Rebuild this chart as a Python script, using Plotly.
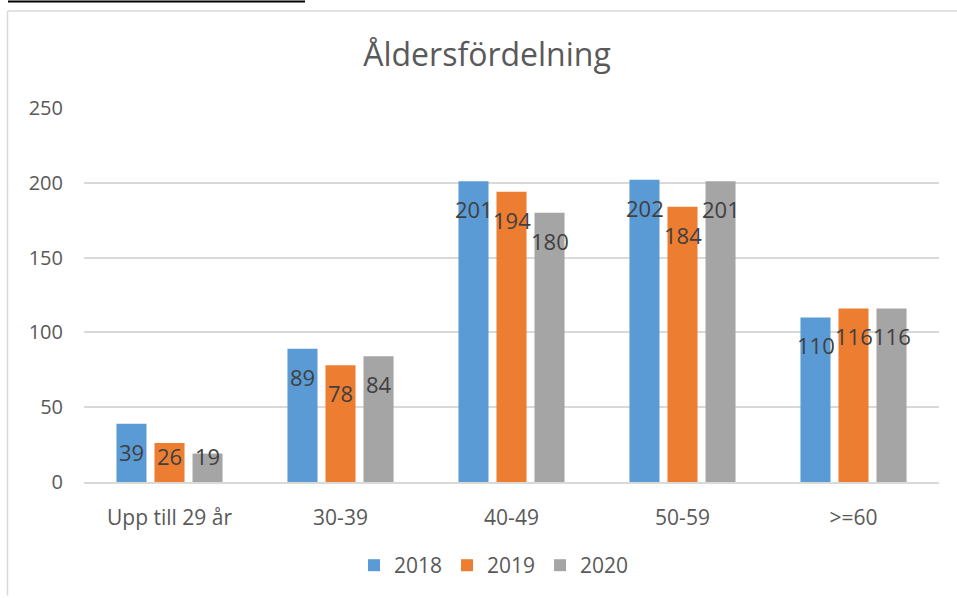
import plotly.graph_objects as go

categories = ["Upp till 29 år", "30-39", "40-49", "50-59", ">=60"]
years = ["2018", "2019", "2020"]
values_2018 = [39, 89, 201, 202, 110]
values_2019 = [26, 78, 194, 184, 116]
values_2020 = [19, 84, 180, 201, 116]
colors = ["#5B9BD5", "#ED7D31", "#A5A5A5"]
title_text = "Åldersfördelning"
y_ticks = [0, 50, 100, 150, 200, 250]
y_max = 250

series = [values_2018, values_2019, values_2020]
FONT = "Open Sans"

W, H = 957, 598
L, R, T, B = 84, 18, 108, 114
pw, ph = W - L - R, H - T - B
px_per_unit = ph / y_max

annotations = []
for j, vals in enumerate(series):
    for cat, v in zip(categories, vals):
        # label sits inside the bar end, but never drops below the axis
        shift = max(-28, 26.5 - v * px_per_unit)
        annotations.append(dict(x=cat, y=v, xref="x", yref="y", text=str(v), showarrow=False,
                                xshift=(j - 1) * 38, yshift=shift,
                                font=dict(family=FONT, size=22, color="#404040")))

fig = go.Figure()
for name, vals, col in zip(years, series, colors):
    fig.add_trace(go.Bar(x=categories, y=vals, name=name, marker=dict(color=col, line=dict(width=0))))


def px(x):
    return (x - L) / pw


def py(y):
    return (H - B - y) / ph


shapes = [
    dict(type="line", xref="paper", yref="paper", x0=px(7.5), x1=px(7.5), y0=py(10.5), y1=py(598), line=dict(color="#D9D9D9", width=1.5)),
    dict(type="line", xref="paper", yref="paper", x0=px(7.5), x1=px(957), y0=py(10.5), y1=py(10.5), line=dict(color="#D9D9D9", width=1.5)),
    dict(type="line", xref="paper", yref="paper", x0=px(8), x1=px(305), y0=py(1), y1=py(1), line=dict(color="#000000", width=2)),
]

fig.update_layout(
    width=W, height=H,
    margin=dict(l=L, r=R, t=T, b=B),
    paper_bgcolor="white", plot_bgcolor="white",
    barmode="group", bargap=0.333, bargroupgap=0.21,
    title=dict(text=title_text, x=487 / W, xanchor="center", y=1 - 55 / H, yanchor="middle",
               font=dict(family=FONT, size=32, color="#595959")),
    font=dict(family=FONT, color="#595959"),
    xaxis=dict(showgrid=False, showline=True, linecolor="#D9D9D9", linewidth=1.5, ticks="",
               tickfont=dict(family=FONT, size=21, color="#595959"), ticklabelstandoff=16),
    yaxis=dict(range=[0, y_max], tickvals=y_ticks, showgrid=True, gridcolor="#D9D9D9", gridwidth=1.5,
               zeroline=False, showline=False, ticks="",
               tickfont=dict(family=FONT, size=20, color="#595959"), ticklabelstandoff=20),
    legend=dict(orientation="h", x=px(494), xanchor="center", y=py(568), yanchor="middle",
                font=dict(family=FONT, size=21, color="#595959"), itemwidth=30, tracegroupgap=0),
    showlegend=True,
    annotations=annotations,
    shapes=shapes,
)

fig.write_html("out.html", config={"displayModeBar": False},
               post_script="document.body.style.margin='0';document.body.style.overflow='hidden';")
